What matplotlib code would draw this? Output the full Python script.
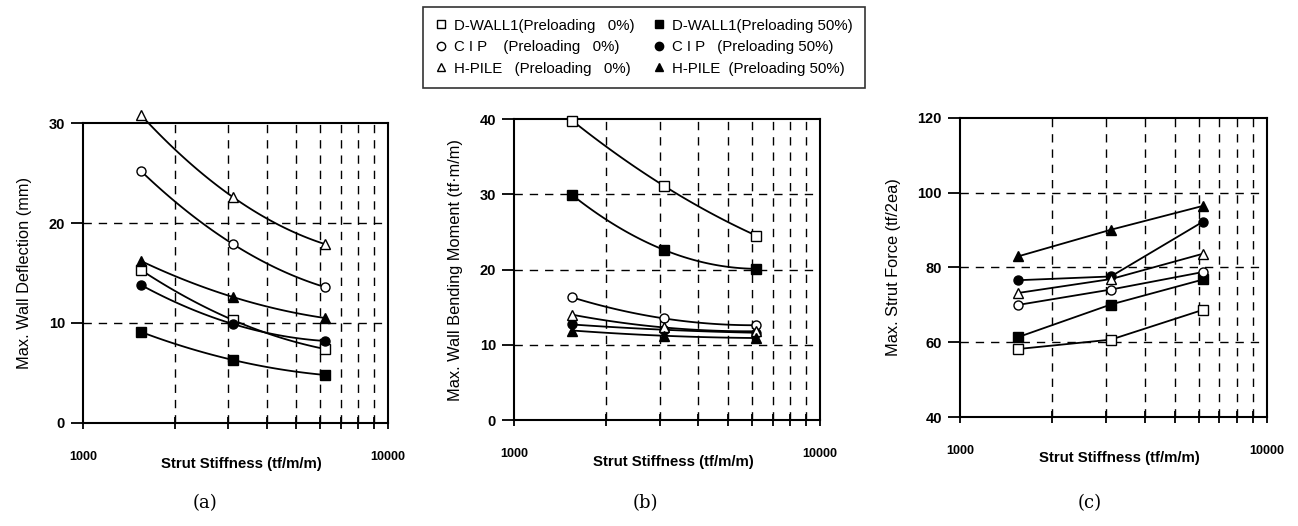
import numpy as np
import matplotlib
matplotlib.use("Agg")
import matplotlib.pyplot as plt
from matplotlib.lines import Line2D

plt.rcParams['font.family'] = ['Liberation Sans', 'DejaVu Sans']

stiffness = [1550, 3100, 6200]

# (a) max wall deflection (mm)
defl_dw0 = [15.3, 10.3, 7.4]
defl_dw50 = [9.1, 6.3, 4.8]
defl_cip0 = [25.2, 17.9, 13.6]
defl_cip50 = [13.8, 9.9, 8.2]
defl_hp0 = [30.8, 22.6, 17.9]
defl_hp50 = [16.2, 12.6, 10.5]

# (b) max wall bending moment (tf.m/m)
mom_dw0 = [39.8, 31.1, 24.5]
mom_dw50 = [29.9, 22.6, 20.1]
mom_cip0 = [16.3, 13.5, 12.6]
mom_cip50 = [12.7, 12.0, 11.6]
mom_hp0 = [14.0, 12.3, 11.8]
mom_hp50 = [11.9, 11.2, 10.9]

# (c) max strut force (tf/2ea)
force_dw0 = [58.2, 60.7, 68.7]
force_dw50 = [61.4, 70.1, 76.8]
force_cip0 = [70.0, 74.1, 78.8]
force_cip50 = [76.6, 77.6, 92.3]
force_hp0 = [73.2, 76.9, 83.7]
force_hp50 = [83.0, 90.1, 96.5]

names = ["D-WALL1(Preloading   0%)", "C I P    (Preloading   0%)", "H-PILE   (Preloading   0%)",
         "D-WALL1(Preloading 50%)", "C I P   (Preloading 50%)", "H-PILE  (Preloading 50%)"]
markers = ['s', 'o', '^', 's', 'o', '^']
fills = ['white', 'white', 'white', 'black', 'black', 'black']

fig = plt.figure(figsize=(12.98, 5.26), dpi=100)


def smooth(xs, ys):
    lx = np.log10(xs)
    c = np.polyfit(lx, ys, 2)
    t = np.linspace(lx[0], lx[-1], 60)
    return 10 ** t, np.polyval(c, t)


def panel(rect, series, ylim, yticks, ylabel, tag, tag_x, curved):
    ax = fig.add_axes(rect)
    order = [0, 2, 4, 1, 3, 5]  # data given as dw0, dw50, cip0, cip50, hp0, hp50
    for k, s in enumerate(series):
        j = order.index(k)
        if curved:
            lx, ly = smooth(stiffness, s)
            ax.plot(lx, ly, color='black', lw=1.3, zorder=2, clip_on=False)
        else:
            ax.plot(stiffness, s, color='black', lw=1.3, zorder=2, clip_on=False)
        ax.plot(stiffness, s, ls='none', marker=markers[j], mfc=fills[j], mec='black',
                ms=6.5, mew=1.0, zorder=3, clip_on=False)
    ax.set_xscale('log')
    ax.set_xlim(1000, 10000)
    ax.set_ylim(*ylim)
    ax.set_yticks(yticks)
    ax.set_xticks([1000, 10000])
    ax.set_xticklabels(['1000', '10000'], fontsize=9, fontweight='bold')
    ax.set_yticklabels([str(v) for v in yticks], fontsize=10.5, fontweight='bold')
    ax.xaxis.set_minor_locator(matplotlib.ticker.LogLocator(base=10, subs=np.arange(2, 10)))
    ax.xaxis.set_minor_formatter(matplotlib.ticker.NullFormatter())
    ax.tick_params(axis='x', which='both', direction='inout', length=9, width=1.3, pad=16)
    ax.tick_params(axis='y', direction='out', length=9, width=1.3, pad=4)
    ax.grid(True, axis='x', which='minor', ls=(0, (6, 5)), color='black', lw=1.0)
    for v in yticks[1:-1]:
        ax.axhline(v, ls=(0, (6, 5)), color='black', lw=1.0, zorder=1)
    for sp in ax.spines.values():
        sp.set_linewidth(1.5)
    ax.set_ylabel(ylabel, fontsize=11.8, labelpad=12)
    ax.set_xlabel("Strut Stiffness (tf/m/m)", fontsize=10.8, fontweight='bold', labelpad=-5)
    ax.xaxis.set_label_coords(0.52, -0.115)
    fig.text(tag_x / 1298, 0.043, tag, family='DejaVu Serif', fontsize=13, ha='center', va='center')
    return ax


panel([0.0639, 0.196, 0.235, 0.570],
      [defl_dw0, defl_dw50, defl_cip0, defl_cip50, defl_hp0, defl_hp50],
      (0, 30), [0, 10, 20, 30], "Max. Wall Deflection (mm)", "(a)", 205, True)
panel([0.396, 0.2015, 0.2357, 0.572],
      [mom_dw0, mom_dw50, mom_cip0, mom_cip50, mom_hp0, mom_hp50],
      (0, 40), [0, 10, 20, 30, 40], "Max. Wall Bending Moment (tf·m/m)", "(b)", 645, True)
panel([0.7396, 0.2072, 0.2365, 0.5685],
      [force_dw0, force_dw50, force_cip0, force_cip50, force_hp0, force_hp50],
      (40, 120), [40, 60, 80, 100, 120], "Max. Strut Force (tf/2ea)", "(c)", 1090, False)

handles = [Line2D([], [], ls='none', marker=markers[i], mfc=fills[i], mec='black', ms=6, mew=1.0)
           for i in range(6)]
leg = fig.legend(handles, names, ncol=2, loc='center', bbox_to_anchor=(0.4961, 0.9106),
                 frameon=True, fancybox=False, edgecolor='black', fontsize=10.8,
                 handlelength=0.8, handletextpad=0.5, columnspacing=1.2,
                 labelspacing=0.5, borderpad=0.8)
leg.get_frame().set_linewidth(1.2)

fig.savefig("out.png", dpi=100, facecolor='white')
